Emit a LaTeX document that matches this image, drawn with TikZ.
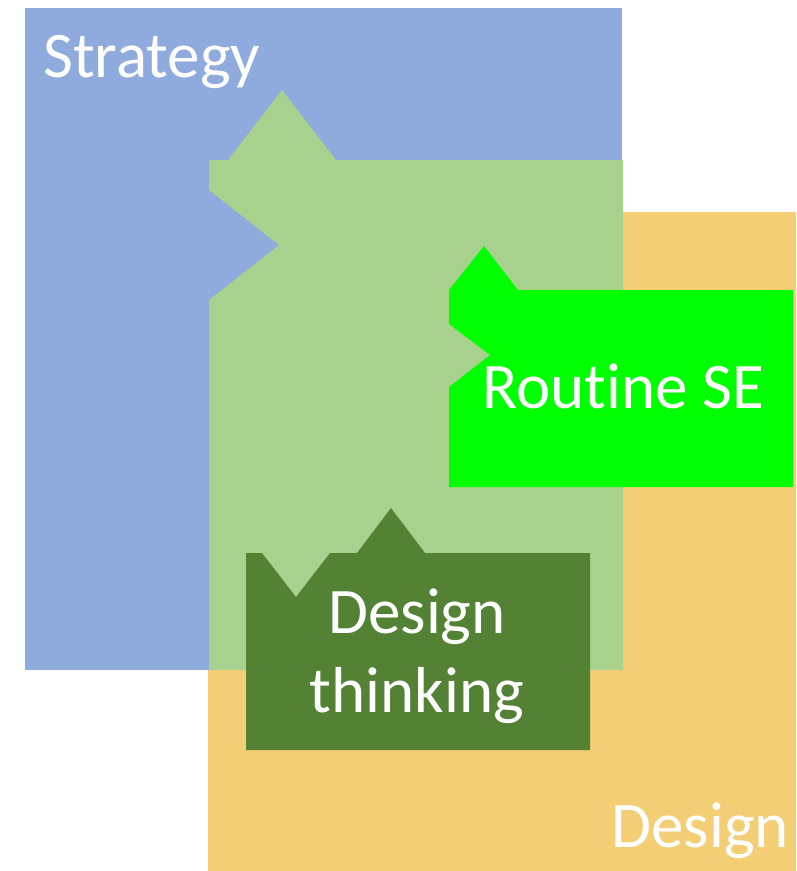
\documentclass[tikz,border=0pt]{standalone}
\usepackage{fontspec}
\setmainfont[Ligatures=NoCommon]{Carlito}
\usepackage{xcolor}
\usetikzlibrary{positioning}

\definecolor{stratblue}{HTML}{8FAADC}
\definecolor{designgold}{HTML}{F4CE74}
\definecolor{paleleaf}{HTML}{A9D18E}
\definecolor{limeleaf}{HTML}{00FF00}
\definecolor{darkleaf}{HTML}{548235}

\begin{document}
\begin{tikzpicture}
	[   x=1pt,y=-1pt,
	    piece/.style={fill=#1,draw=none},
	]
	\tikzset{label text/.style={text=white,inner sep=0pt,font=\fontsize{65}{79}\selectfont}}
	\useasboundingbox (0,0) rectangle (796,871);
	
	% the two fields
	\fill[piece=designgold] (208,212) rectangle (796,871);
	\fill[piece=stratblue] (25,8) rectangle (622,670);
	
	% puzzle pieces
	\fill[piece=paleleaf] (209,160) -- (228,160) -- (282,90) -- (336,160) -- (623,160) -- (623,670)
		-- (209,670) -- (209,300) -- (279,245) -- (209,190) -- cycle;
	\fill[piece=limeleaf] (449,290) -- (484,246) -- (518,290) -- (793,290) -- (793,487)
		-- (449,487) -- (449,387) -- (490,355) -- (449,324) -- cycle;
	\fill[piece=darkleaf] (246,553) -- (262,553) -- (296,597) -- (330,553) -- (357,553) -- (391,508)
		-- (425,553) -- (590,553) -- (590,750) -- (246,750) -- cycle;
	
	\node[label text,anchor=base west] (strategy) at (43,77) {Strategy};
	\node[label text,anchor=base west] (routine) at (482,408) {Routine SE};
	\node[label text,anchor=base,align=center] (thinking) at (417,712) {Design\\thinking};
	\node[label text,anchor=base east] (design) at (789,847) {Design};
\end{tikzpicture}
\end{document}
